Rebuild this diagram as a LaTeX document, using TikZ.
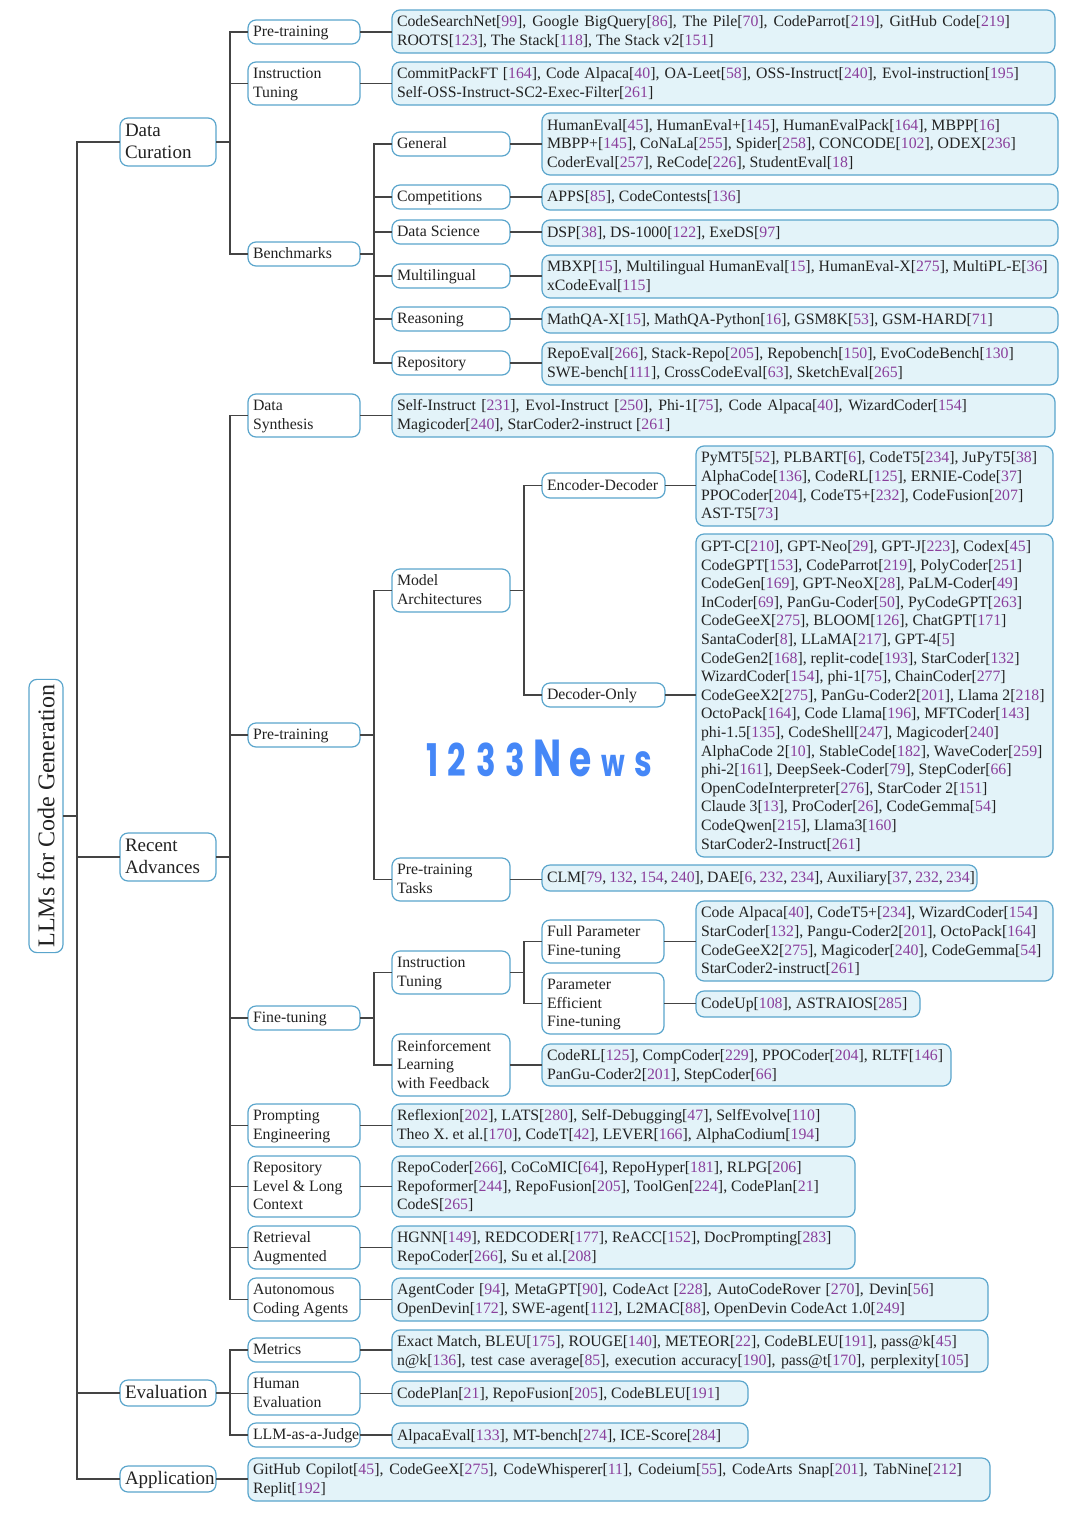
\documentclass[tikz,border=0pt]{standalone}
\usepackage{fontspec}
\usepackage{calc}
\setmainfont{Liberation Serif}
\newfontfamily\wmfont[FakeStretch=0.72]{Poppins}
\definecolor{cite}{HTML}{8A3F9C}
\definecolor{edge}{HTML}{5AA5CC}
\definecolor{leaf}{HTML}{E3F3F9}
\definecolor{line}{HTML}{444444}
\definecolor{ink}{HTML}{222222}
\definecolor{wmblue}{HTML}{4587F7}
\newcommand\rf[1]{[{\color{cite}#1}]}
\newcommand\pn[1]{{\color{cite}#1}}
\newcommand\fit[2]{\hbox to #1pt{#2}}
\tikzset{
  base/.style={draw=edge,line width=1.2pt,rounded corners=8pt,text=ink,inner ysep=0pt,inner xsep=5pt,outer sep=0pt,align=flush left,font=\fontsize{15.8}{18.6}\selectfont},
  tag/.style={base,fill=white},
  leafbox/.style={base,fill=leaf},
  headbox/.style={base,fill=white,font=\fontsize{19}{21.8}\selectfont},
  conn/.style={draw=line,line width=1.2pt},
}
% [style]{name}{x1}{y1}{x2}{y2}{lines}
\newcommand\bx[6][tag]{%
  \pgfmathsetmacro\bw{#5-#3}\pgfmathsetmacro\bh{#6-#4}%
  \pgfmathsetmacro\tw{#5-#3-10}%
  \bxx{#1}{#2}{#3}{#4}}
\newcommand\bxx[5]{%
  \node (#2) [#1,anchor=north west,minimum width=\bw pt,minimum height=\bh pt,text width=\tw pt] at (#3,#4) {\raisebox{-1pt}[\height][\depth]{\begin{tabular}{@{}l@{}}#5\end{tabular}}};}
\newcommand\fork[3]{%
  \coordinate (t#1) at (#2,0);
  \foreach \c in {#3} {\draw[conn] (#1.east) -- (#1.east -| t#1) |- (\c.west);}}
\newcommand\link[2]{\draw[conn] (#1.east) -- (#1.east -| #2.west);}
\begin{document}
\begin{tikzpicture}[x=1pt,y=-1pt]
\useasboundingbox (0,0) rectangle (1080,1518);
% root
\node (root) [base,fill=white,rotate=90,minimum width=272pt,minimum height=34pt,align=center,font=\fontsize{24}{26}\selectfont] at (46,816) {LLMs for Code Generation};
% level 1
\bx[headbox]{dc}{120}{118}{216}{166}{Data\\Curation}
\bx[headbox]{ra}{120}{833}{216}{881}{Recent\\Advances}
\bx[headbox]{ev}{120}{1380}{216}{1406}{Evaluation}
\bx[headbox]{ap}{120}{1466}{216}{1492}{Application}
% level 2
\bx{dcpre}{248}{20}{360}{44}{Pre-training}
\bx{dcins}{248}{62}{360}{105}{Instruction\\Tuning}
\bx{dcben}{248}{242}{360}{266}{Benchmarks}
\bx{rasyn}{248}{394}{360}{437}{Data\\Synthesis}
\bx{rapre}{248}{723}{360}{747}{Pre-training}
\bx{rafin}{248}{1006}{360}{1030}{Fine-tuning}
\bx{rapro}{248}{1104}{360}{1147}{Prompting\\Engineering}
\bx{rarep}{248}{1156}{360}{1217}{Repository\\Level \& Long\\Context}
\bx{raret}{248}{1226}{360}{1269}{Retrieval\\Augmented}
\bx{raaut}{248}{1278}{360}{1321}{Autonomous\\Coding Agents}
\bx{evmet}{248}{1338}{360}{1362}{Metrics}
\bx{evhum}{248}{1372}{360}{1415}{Human\\Evaluation}
\bx{evllm}{248}{1423}{360}{1447}{LLM-as-a-Judge}
\bx[leafbox]{apl}{248}{1458}{990}{1501}{\fit{709}{GitHub Copilot\rf{45}, CodeGeeX\rf{275}, CodeWhisperer\rf{11}, Codeium\rf{55}, CodeArts Snap\rf{201}, TabNine\rf{212}}\\Replit\rf{192}}
% level 3 leaves
\bx[leafbox]{l1}{392}{10}{1055}{53}{\fit{613}{CodeSearchNet\rf{99}, Google BigQuery\rf{86}, The Pile\rf{70}, CodeParrot\rf{219}, GitHub Code\rf{219}}\\ROOTS\rf{123}, The Stack\rf{118}, The Stack v2\rf{151}}
\bx[leafbox]{l2}{392}{62}{1055}{105}{\fit{622}{CommitPackFT \rf{164}, Code Alpaca\rf{40}, OA-Leet\rf{58}, OSS-Instruct\rf{240}, Evol-instruction\rf{195}}\\Self-OSS-Instruct-SC2-Exec-Filter\rf{261}}
\bx[leafbox]{l3}{392}{394}{1055}{437}{\fit{570}{Self-Instruct \rf{231}, Evol-Instruct \rf{250}, Phi-1\rf{75}, Code Alpaca\rf{40}, WizardCoder\rf{154}}\\Magicoder\rf{240}, StarCoder2-instruct \rf{261}}
\bx[leafbox]{l4}{392}{1104}{855}{1147}{Reflexion\rf{202}, LATS\rf{280}, Self-Debugging\rf{47}, SelfEvolve\rf{110}\\Theo X. et al.\rf{170}, CodeT\rf{42}, LEVER\rf{166}, AlphaCodium\rf{194}}
\bx[leafbox]{l5}{392}{1156}{855}{1217}{RepoCoder\rf{266}, CoCoMIC\rf{64}, RepoHyper\rf{181}, RLPG\rf{206}\\Repoformer\rf{244}, RepoFusion\rf{205}, ToolGen\rf{224}, CodePlan\rf{21}\\CodeS\rf{265}}
\bx[leafbox]{l6}{392}{1226}{855}{1269}{HGNN\rf{149}, REDCODER\rf{177}, ReACC\rf{152}, DocPrompting\rf{283}\\RepoCoder\rf{266}, Su et al.\rf{208}}
\bx[leafbox]{l7}{392}{1278}{988}{1321}{\fit{537}{AgentCoder \rf{94}, MetaGPT\rf{90}, CodeAct \rf{228}, AutoCodeRover \rf{270}, Devin\rf{56}}\\OpenDevin\rf{172}, SWE-agent\rf{112}, L2MAC\rf{88}, OpenDevin CodeAct 1.0\rf{249}}
\bx[leafbox]{l8}{392}{1330}{988}{1372}{Exact Match, BLEU\rf{175}, ROUGE\rf{140}, METEOR\rf{22}, CodeBLEU\rf{191}, pass@k\rf{45}\\\fit{572}{n@k\rf{136}, test case average\rf{85}, execution accuracy\rf{190}, pass@t\rf{170}, perplexity\rf{105}}}
\bx[leafbox]{l9}{392}{1381}{748}{1406}{CodePlan\rf{21}, RepoFusion\rf{205}, CodeBLEU\rf{191}}
\bx[leafbox]{l10}{392}{1423}{748}{1448}{AlpacaEval\rf{133}, MT-bench\rf{274}, ICE-Score\rf{284}}
% benchmarks
\bx{bgen}{392}{132}{510}{156}{General}
\bx{bcom}{392}{185}{510}{209}{Competitions}
\bx{bdat}{392}{220}{510}{244}{Data Science}
\bx{bmul}{392}{264}{510}{288}{Multilingual}
\bx{brea}{392}{307}{510}{331}{Reasoning}
\bx{brep}{392}{351}{510}{375}{Repository}
\bx[leafbox]{lgen}{542}{113}{1058}{175}{HumanEval\rf{45}, HumanEval+\rf{145}, HumanEvalPack\rf{164}, MBPP\rf{16}\\MBPP+\rf{145}, CoNaLa\rf{255}, Spider\rf{258}, CONCODE\rf{102}, ODEX\rf{236}\\CoderEval\rf{257}, ReCode\rf{226}, StudentEval\rf{18}}
\bx[leafbox]{lcom}{542}{184}{1058}{210}{APPS\rf{85}, CodeContests\rf{136}}
\bx[leafbox]{ldat}{542}{220}{1058}{246}{DSP\rf{38}, DS-1000\rf{122}, ExeDS\rf{97}}
\bx[leafbox]{lmul}{542}{255}{1058}{298}{MBXP\rf{15}, Multilingual HumanEval\rf{15}, HumanEval-X\rf{275}, MultiPL-E\rf{36}\\xCodeEval\rf{115}}
\bx[leafbox]{lrea}{542}{307}{1058}{333}{MathQA-X\rf{15}, MathQA-Python\rf{16}, GSM8K\rf{53}, GSM-HARD\rf{71}}
\bx[leafbox]{lrep}{542}{342}{1058}{385}{RepoEval\rf{266}, Stack-Repo\rf{205}, Repobench\rf{150}, EvoCodeBench\rf{130}\\SWE-bench\rf{111}, CrossCodeEval\rf{63}, SketchEval\rf{265}}
% pre-training
\bx{mod}{392}{569}{510}{612}{Model\\Architectures}
\bx{tas}{392}{858}{510}{901}{Pre-training\\Tasks}
\bx{ende}{542}{473}{665}{498}{Encoder-Decoder}
\bx{deon}{542}{683}{665}{707}{Decoder-Only}
\bx[leafbox]{lende}{696}{446}{1053}{526}{PyMT5\rf{52}, PLBART\rf{6}, CodeT5\rf{234}, JuPyT5\rf{38}\\AlphaCode\rf{136}, CodeRL\rf{125}, ERNIE-Code\rf{37}\\PPOCoder\rf{204}, CodeT5+\rf{232}, CodeFusion\rf{207}\\AST-T5\rf{73}}
\bx[leafbox]{ldeon}{696}{534}{1053}{857}{GPT-C\rf{210}, GPT-Neo\rf{29}, GPT-J\rf{223}, Codex\rf{45}\\CodeGPT\rf{153}, CodeParrot\rf{219}, PolyCoder\rf{251}\\CodeGen\rf{169}, GPT-NeoX\rf{28}, PaLM-Coder\rf{49}\\InCoder\rf{69}, PanGu-Coder\rf{50}, PyCodeGPT\rf{263}\\CodeGeeX\rf{275}, BLOOM\rf{126}, ChatGPT\rf{171}\\SantaCoder\rf{8}, LLaMA\rf{217}, GPT-4\rf{5}\\CodeGen2\rf{168}, replit-code\rf{193}, StarCoder\rf{132}\\WizardCoder\rf{154}, phi-1\rf{75}, ChainCoder\rf{277}\\CodeGeeX2\rf{275}, PanGu-Coder2\rf{201}, Llama 2\rf{218}\\OctoPack\rf{164}, Code Llama\rf{196}, MFTCoder\rf{143}\\phi-1.5\rf{135}, CodeShell\rf{247}, Magicoder\rf{240}\\AlphaCode 2\rf{10}, StableCode\rf{182}, WaveCoder\rf{259}\\phi-2\rf{161}, DeepSeek-Coder\rf{79}, StepCoder\rf{66}\\OpenCodeInterpreter\rf{276}, StarCoder 2\rf{151}\\Claude 3\rf{13}, ProCoder\rf{26}, CodeGemma\rf{54}\\CodeQwen\rf{215}, Llama3\rf{160}\\StarCoder2-Instruct\rf{261}}
\bx[leafbox]{ltas}{542}{865}{977}{891}{\fit{428}{CLM[\pn{79}, \pn{132}, \pn{154}, \pn{240}], DAE[\pn{6}, \pn{232}, \pn{234}], Auxiliary[\pn{37}, \pn{232}, \pn{234}]}}
% fine-tuning
\bx{ins}{392}{951}{510}{994}{Instruction\\Tuning}
\bx{rei}{392}{1034}{510}{1096}{Reinforcement\\Learning\\with Feedback}
\bx{ful}{542}{920}{664}{963}{Full Parameter\\Fine-tuning}
\bx{eff}{542}{973}{664}{1034}{Parameter\\Efficient\\Fine-tuning}
\bx[leafbox]{lful}{696}{901}{1053}{981}{Code Alpaca\rf{40}, CodeT5+\rf{234}, WizardCoder\rf{154}\\StarCoder\rf{132}, Pangu-Coder2\rf{201}, OctoPack\rf{164}\\CodeGeeX2\rf{275}, Magicoder\rf{240}, CodeGemma\rf{54}\\StarCoder2-instruct\rf{261}}
\bx[leafbox]{leff}{696}{991}{920}{1017}{CodeUp\rf{108}, ASTRAIOS\rf{285}}
\bx[leafbox]{lrei}{542}{1044}{951}{1086}{CodeRL\rf{125}, CompCoder\rf{229}, PPOCoder\rf{204}, RLTF\rf{146}\\PanGu-Coder2\rf{201}, StepCoder\rf{66}}
% connectors
\coordinate (troot) at (77,0);
\foreach \c in {dc,ra,ev,ap} {\draw[conn] (root.south) -- (root.south -| troot) |- (\c.west);}
\fork{dc}{230}{dcpre,dcins,dcben}
\fork{ra}{230}{rasyn,rapre,rafin,rapro,rarep,raret,raaut}
\fork{ev}{230}{evmet,evhum,evllm}
\link{ap}{apl}
\link{dcpre}{l1}\link{dcins}{l2}\link{rasyn}{l3}\link{rapro}{l4}\link{rarep}{l5}\link{raret}{l6}\link{raaut}{l7}\link{evmet}{l8}\link{evhum}{l9}\link{evllm}{l10}
\fork{dcben}{374}{bgen,bcom,bdat,bmul,brea,brep}
\link{bgen}{lgen}\link{bcom}{lcom}\link{bdat}{ldat}\link{bmul}{lmul}\link{brea}{lrea}\link{brep}{lrep}
\fork{rapre}{374}{mod,tas}
\fork{mod}{524}{ende,deon}
\link{ende}{lende}\link{deon}{ldeon}\link{tas}{ltas}
\fork{rafin}{374}{ins,rei}
\fork{ins}{524}{ful,eff}
\link{ful}{lful}\link{eff}{leff}\link{rei}{lrei}
% watermark
\node (wm) [anchor=base west,inner sep=0pt,text=wmblue,font=\wmfont\bfseries] at (426,776) {\fontsize{45}{45}\selectfont 1\hspace{9pt}2\hspace{11pt}3\hspace{9pt}3\hspace{8pt}\fontsize{52}{52}\selectfont N\hspace{8pt}\fontsize{50}{50}\selectfont e\hspace{10pt}\fontsize{38}{38}\selectfont w\hspace{9pt}\fontsize{44}{44}\selectfont s};
\end{tikzpicture}
\end{document}
